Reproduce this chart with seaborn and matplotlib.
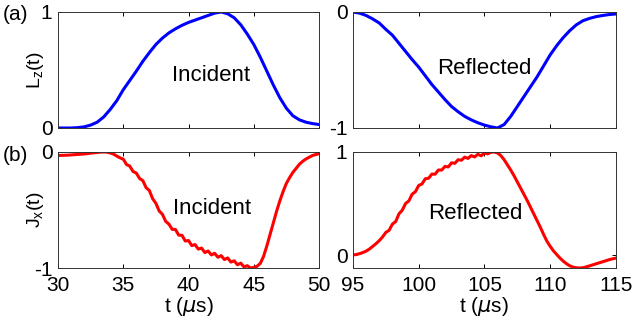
import numpy as np
import matplotlib
matplotlib.use("Agg")
import matplotlib.pyplot as plt
import seaborn as sns

t_inc_L = np.arange(30, 50.01, 0.5)
Lz_inc = [0.0, 0.0, 0.0, 0.003, 0.01, 0.025, 0.05, 0.095, 0.16, 0.235,
          0.33, 0.41, 0.49, 0.575, 0.65, 0.72, 0.775, 0.82, 0.855, 0.885,
          0.91, 0.93, 0.95, 0.97, 0.99, 1.0, 0.985, 0.95, 0.89, 0.81,
          0.72, 0.61, 0.49, 0.37, 0.26, 0.17, 0.105, 0.07, 0.05, 0.038, 0.03]

t_ref_L = np.arange(95, 115.01, 0.5)
Lz_ref = [0.0, -0.01, -0.03, -0.06, -0.095, -0.15, -0.2, -0.27, -0.34, -0.41,
          -0.475, -0.55, -0.625, -0.69, -0.755, -0.815, -0.86, -0.9, -0.93, -0.955,
          -0.975, -0.99, -1.0, -0.97, -0.9, -0.815, -0.73, -0.645, -0.56, -0.465,
          -0.37, -0.29, -0.22, -0.16, -0.11, -0.075, -0.055, -0.04, -0.03, -0.022, -0.017]

t_inc_J = np.arange(30, 50.01, 0.25)
Jx_inc = [-0.030, -0.029, -0.028, -0.027, -0.025, -0.023, -0.021, -0.019,
          -0.017, -0.014, -0.010, -0.007, -0.004, -0.001, 0.000, -0.001,
          -0.008, -0.018, -0.035, -0.05,
          -0.062, -0.108, -0.122, -0.168, -0.182, -0.228, -0.247, -0.308,
          -0.332, -0.403, -0.442, -0.508, -0.537, -0.598, -0.622, -0.667,
          -0.668, -0.717, -0.718, -0.767, -0.763, -0.807, -0.798, -0.837,
          -0.828, -0.867, -0.853, -0.887, -0.873, -0.907, -0.893, -0.927,
          -0.913, -0.949, -0.938, -0.972, -0.958, -0.99, -0.98, -1.0,
          -0.995, -0.985, -0.96, -0.90, -0.81, -0.71, -0.61, -0.51,
          -0.42, -0.34, -0.27, -0.22, -0.175, -0.14, -0.105, -0.08,
          -0.06, -0.045, -0.03, -0.022, -0.015]

t_ref_J = np.arange(95, 115.01, 0.25)
Jx_ref = [0.0, 0.005, 0.013, 0.024, 0.038, 0.058, 0.084, 0.11,
          0.14, 0.175, 0.22, 0.24, 0.30, 0.325, 0.40, 0.435,
          0.50, 0.525, 0.59, 0.615, 0.675, 0.69, 0.74, 0.745,
          0.785, 0.785, 0.825, 0.825, 0.86, 0.855, 0.895, 0.89,
          0.925, 0.92, 0.95, 0.938, 0.965, 0.952, 0.978, 0.963,
          0.99, 0.982, 0.998, 1.0, 0.99, 0.965, 0.925, 0.875,
          0.825, 0.77, 0.71, 0.65, 0.59, 0.53, 0.465, 0.40,
          0.335, 0.27, 0.2, 0.135, 0.085, 0.04, 0.005, -0.03,
          -0.06, -0.085, -0.105, -0.118, -0.124, -0.126, -0.123, -0.115,
          -0.105, -0.095, -0.085, -0.075, -0.065, -0.055, -0.045, -0.037, -0.03]

xticks_inc = [30, 35, 40, 45, 50]
xticks_ref = [95, 100, 105, 110, 115]

#%% Style
sns.set_style("ticks")
plt.rcParams['font.family'] = ['Liberation Sans', 'DejaVu Sans']
plt.rcParams['axes.unicode_minus'] = False
plt.rcParams['xtick.direction'] = 'in'
plt.rcParams['ytick.direction'] = 'in'
plt.rcParams['xtick.top'] = True
plt.rcParams['ytick.right'] = True
plt.rcParams['xtick.major.size'] = 3
plt.rcParams['ytick.major.size'] = 3
plt.rcParams['axes.linewidth'] = 0.7
plt.rcParams['axes.edgecolor'] = '#333333'
plt.rcParams['text.color'] = 'black'
plt.rcParams['axes.labelcolor'] = 'black'
plt.rcParams['xtick.color'] = 'black'
plt.rcParams['ytick.color'] = 'black'

fig = plt.figure(figsize=(6.32, 3.31), dpi=100)
w_l, w_r = 0.413, 0.416
h = 0.3505
ax_a1 = fig.add_axes([0.0918, 0.6133, w_l, h])
ax_a2 = fig.add_axes([0.5585, 0.6133, w_r, h])
ax_b1 = fig.add_axes([0.0918, 0.1903, w_l, h])
ax_b2 = fig.add_axes([0.5585, 0.1903, w_r, h])

panels = [
    (ax_a1, t_inc_L, Lz_inc, 'blue', (30, 50), (0, 1), [0, 1], xticks_inc, 'Incident', (41.7, 0.45)),
    (ax_a2, t_ref_L, Lz_ref, 'blue', (95, 115), (-1, 0), [-1, 0], xticks_ref, 'Reflected', (105.0, -0.49)),
    (ax_b1, t_inc_J, Jx_inc, 'red', (30, 50), (-1, 0), [-1, 0], xticks_inc, 'Incident', (41.8, -0.485)),
    (ax_b2, t_ref_J, Jx_ref, 'red', (95, 115), (-0.126, 1), [0, 1], xticks_ref, 'Reflected', (104.3, 0.405)),
]

for ax, t, y, col, xl, yl, yt, xt, txt, pos in panels:
    sns.lineplot(x=t, y=y, ax=ax, color=col, lw=2.2)
    ax.set_xlim(*xl)
    ax.set_ylim(*yl)
    ax.set_xticks(xt)
    ax.set_yticks(yt)
    ax.tick_params(axis='y', labelsize=15, pad=4, width=0.7)
    ax.tick_params(axis='x', labelsize=15, pad=6, width=0.7)
    ax.text(pos[0], pos[1], txt, fontsize=16, ha='center', va='center')

for ax in (ax_a1, ax_a2):
    ax.set_xticklabels([])
for ax in (ax_b1, ax_b2):
    ax.set_xlabel(r't ($\mu$s)', fontsize=15, labelpad=0)

ax_a1.set_ylabel(r'L$_\mathregular{z}$(t)', fontsize=14)
ax_b1.set_ylabel(r'J$_\mathregular{x}$(t)', fontsize=14)
ax_a1.yaxis.set_label_coords(-0.045, 0.5)
ax_b1.yaxis.set_label_coords(-0.045, 0.5)

fig.text(0.005, 0.955, '(a)', fontsize=15, va='center')
fig.text(0.005, 0.53, '(b)', fontsize=15, va='center')

plt.savefig('out.png', dpi=100)
